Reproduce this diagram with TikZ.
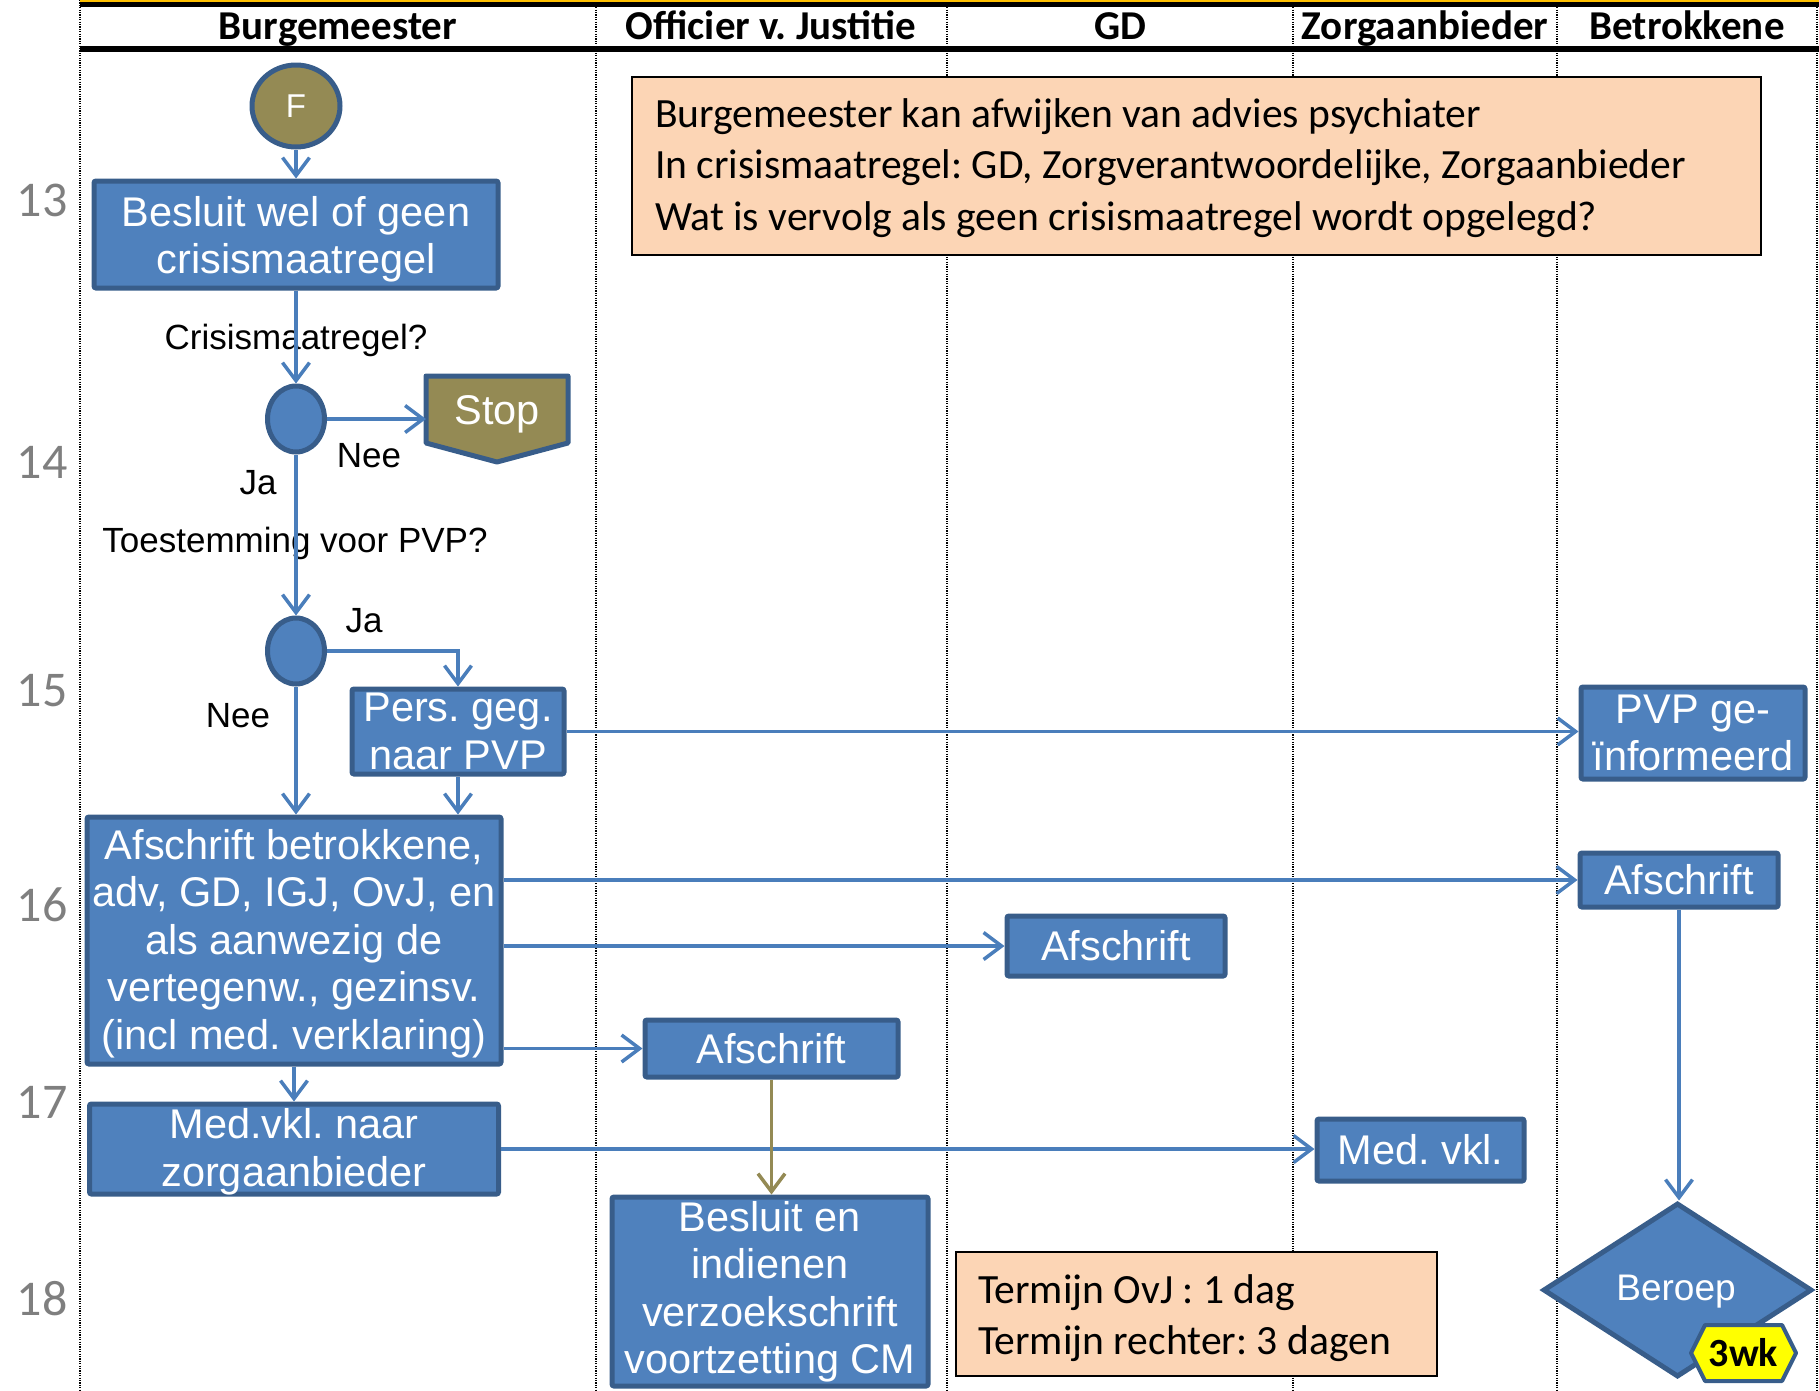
\documentclass[tikz,border=0pt]{standalone}
\usepackage{fontspec}
\setmainfont{Liberation Sans}
\newfontfamily\calfont{Carlito}
\usetikzlibrary{arrows.meta,shapes.geometric,calc}
\frenchspacing

\definecolor{boxfill}{HTML}{4F81BD}
\definecolor{boxline}{HTML}{385D8A}
\definecolor{flow}{HTML}{4A7EBB}
\definecolor{olive}{HTML}{948A54}
\definecolor{peach}{HTML}{FCD5B5}
\definecolor{rownum}{HTML}{7F7F7F}
\definecolor{topline}{HTML}{FFC000}
\definecolor{badge}{HTML}{FFFF00}

% process box: outline node plus a separate white text node
\newcommand\procnode[6][0pt]{%
  \node[proc, minimum width=#4, minimum height=#5] (#2) at #3 {};
  \node[ptext, yshift=#1] (#2-text) at (#2.center) {#6};}

\begin{document}
\begin{tikzpicture}[x=1pt,y=-1pt,
  every node/.style={inner sep=0pt, outer sep=0pt},
  lane/.style={line width=2pt, dash pattern=on 1.2pt off 1.2pt},
  head/.style={anchor=base, font=\calfont\bfseries\fontsize{41}{48}\selectfont},
  rowno/.style={text=rownum, font=\calfont\fontsize{50}{56}\selectfont},
  proc/.style={rectangle, rounded corners=2pt, draw=boxline, line width=5pt, fill=boxfill, outer sep=2.5pt},
  ptext/.style={text=white, align=center, font=\fontsize{41.5}{47.5}\selectfont},
  cond/.style={ellipse, draw=boxline, line width=5pt, fill=boxfill, minimum width=57pt, minimum height=66pt, outer sep=2.5pt},
  lbl/.style={text=black, font=\fontsize{35}{40}\selectfont},
  note/.style={rectangle, draw=black, line width=2pt, fill=peach},
  ntext/.style={align=left, anchor=west, font=\calfont\fontsize{41.6}{51.5}\selectfont},
  flowline/.style={draw=flow, line width=3.5pt, -{Straight Barb[length=18pt,width=27pt]}},
]
\useasboundingbox (0,0) rectangle (1819,1390);

% swimlane separators
\foreach \x in {80,596,947,1293,1557,1817}
  \draw[lane] (\x,0) -- (\x,1390);

% header band
\draw[topline, line width=1.6pt] (80,0.8) -- (1819,0.8);
\draw[black, line width=5pt] (80,4.5) -- (1819,4.5);
\draw[black, line width=6pt] (80,48.5) -- (1819,48.5);
\node[head] (h-bm)   at (338,39)  {Burgemeester};
\node[head] (h-ovj)  at (771,39)  {Officier v. Justitie};
\node[head] (h-gd)   at (1120,39) {GD};
\node[head] (h-zorg) at (1425,39) {Zorgaanbieder};
\node[head] (h-betr) at (1687,39) {Betrokkene};

% step numbers
\node[rowno] (r13) at (42,200)  {13};
\node[rowno] (r14) at (42,462)  {14};
\node[rowno] (r15) at (42,691)  {15};
\node[rowno] (r16) at (42,905)  {16};
\node[rowno] (r17) at (42,1102) {17};
\node[rowno] (r18) at (42,1299) {18};

% notes
\node[note, minimum width=1129pt, minimum height=178pt] (note1) at (1196.5,166) {};
\node[ntext] (note1-text) at (655,168)
  {Burgemeester kan afwijken van advies psychiater\\
   In crisismaatregel: GD, Zorgverantwoordelijke, Zorgaanbieder\\
   Wat is vervolg als geen crisismaatregel wordt opgelegd?};
\node[note, minimum width=481pt, minimum height=124pt] (note2) at (1196.5,1314) {};
\node[ntext] (note2-text) at (978,1318)
  {Termijn OvJ : 1 dag\\Termijn rechter: 3 dagen};

% start connector
\node[ellipse, draw=boxline, line width=5pt, fill=olive, minimum width=88pt, minimum height=82pt, outer sep=2.5pt] (F) at (296,106) {};
\node[text=white, font=\fontsize{33}{38}\selectfont] (F-text) at (F.center) {F};

% Burgemeester lane
\procnode[-5pt]{besluit}{(296,234.5)}{404pt}{107pt}{Besluit wel of geen\\crisismaatregel}
\node[cond] (dec1) at (296,419) {};
\node[cond] (dec2) at (296,651) {};

% stop (off-page connector)
\node[minimum width=142pt, minimum height=67pt] (stop) at (497,409.5) {};
\draw[draw=boxline, line width=5pt, fill=olive, line join=round]
  (stop.north west) -- (stop.north east) -- (stop.south east)
  -- ($(stop.south)+(0,19)$) -- (stop.south west) -- cycle;
\node[ptext, yshift=-5pt] (stop-text) at (stop.center) {Stop};

\procnode{pers}{(458,731.5)}{212pt}{85pt}{Pers. geg.\\naar PVP}
\procnode[-3pt]{big}{(294,940.5)}{414pt}{247pt}{Afschrift betrokkene,\\adv, GD, IGJ, OvJ, en\\als aanwezig de\\vertegenw., gezinsv.\\(incl med. verklaring)}
\procnode[-3pt]{med}{(294,1149)}{409pt}{90pt}{Med.vkl. naar\\zorgaanbieder}

% other lanes
\procnode{afovj}{(771.5,1048.5)}{253pt}{57pt}{Afschrift}
\procnode{besl}{(770,1291.5)}{316pt}{189pt}{Besluit en\\indienen\\verzoekschrift\\voortzetting CM}
\procnode{afgd}{(1116,946)}{218pt}{60pt}{Afschrift}
\procnode{medz}{(1420.5,1150)}{207pt}{62pt}{Med. vkl.}
\procnode{pvp}{(1693,733)}{224pt}{92pt}{PVP ge-\\ïnformeerd}
\procnode{afbet}{(1679,880)}{198pt}{54pt}{Afschrift}

% appeal decision with deadline badge
\node[diamond, draw=boxline, line width=5pt, fill=boxfill, minimum width=269pt, minimum height=174pt, outer sep=2.5pt] (beroep) at (1677.5,1290) {};
\node[text=white, font=\fontsize{37}{42}\selectfont] (beroep-text) at (1676,1292) {Beroep};
\draw[draw=boxline, line width=4pt, fill=badge, line join=round]
  (1691,1353) -- (1705,1325) -- (1782,1325) -- (1796,1353) -- (1782,1381) -- (1705,1381) -- cycle;
\node[font=\calfont\bfseries\fontsize{40}{46}\selectfont] (wk) at (1743.5,1353) {3wk};

% labels
\node[lbl] (q1)   at (296,340) {Crisismaatregel?};
\node[lbl] (nee1) at (369,456) {Nee};
\node[lbl] (ja1)  at (258,483) {Ja};
\node[lbl] (q2)   at (295,543) {Toestemming voor PVP?};
\node[lbl] (ja2)  at (364,621) {Ja};
\node[lbl] (nee2) at (238,716) {Nee};

% connectors
\draw[flowline] (F.south) -- (besluit.north);
\draw[flowline] (besluit.south) -- (dec1.north);
\draw[flowline] (dec1.east) -- (dec1.east -| stop.west);
\draw[flowline] (dec1.south) -- (dec2.north);
\draw[flowline] (dec2.east) -| (pers.north);
\draw[flowline] (dec2.south) -- (dec2.south |- big.north);
\draw[flowline] (pers.south) -- (pers.south |- big.north);
\draw[flowline] (pers.east) -- (pers.east -| pvp.west);
\draw[flowline] (big.east |- afbet.west) -- (afbet.west);
\draw[flowline] (big.east |- afgd.west) -- (afgd.west);
\draw[flowline] (big.east |- afovj.west) -- (afovj.west);
\draw[flowline] (big.south) -- (big.south |- med.north);
\draw[flowline] (med.east) -- (med.east -| medz.west);
\draw[flowline, draw=olive] (afovj.south) -- (afovj.south |- besl.north);
\draw[flowline] (afbet.south) -- (afbet.south |- beroep.north);

\end{tikzpicture}
\end{document}
